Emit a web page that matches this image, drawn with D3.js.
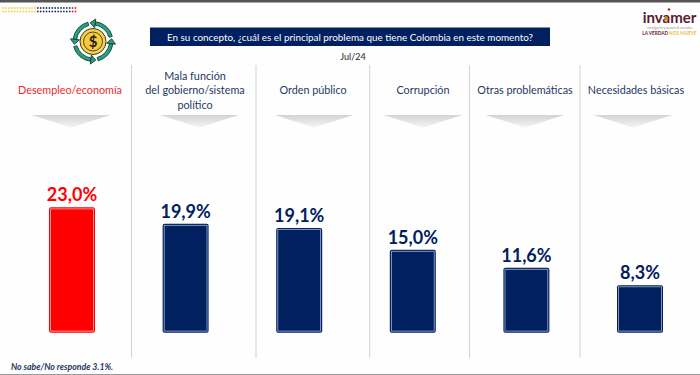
<!DOCTYPE html>
<html>
<head>
<meta charset="utf-8">
<script src="https://cdn.jsdelivr.net/npm/d3@7"></script>
<style>
  html, body { margin: 0; padding: 0; background: #fff; overflow: hidden; }
  svg { display: block; font-family: Lato, "Open Sans", sans-serif; }
</style>
</head>
<body>
<svg width="700" height="375"></svg>
<script>
// Data
const categories = [
  ["Desempleo/economía"],
  ["Mala función", "del gobierno/sistema", "político"],
  ["Orden público"],
  ["Corrupción"],
  ["Otras problemáticas"],
  ["Necesidades básicas"]
];
const values = [23.0, 19.9, 19.1, 15.0, 11.6, 8.3];
const question = "En su concepto, ¿cuál es el principal problema que tiene Colombia en este momento?";
const period = "Jul/24";
const footnote = "No sabe/No responde 3.1%.";

// Layout of the slide
const navy = "#002060";
const red = "#ff0000";
const labelX = [70, 195, 313, 423, 525, 636];
const arrowX = [71, 199.5, 314, 423, 525, 633];
const separatorX = [131.5, 256, 369.7, 469.5, 580];

const svg = d3.select("svg");
const defs = svg.append("defs");
const grad = defs.append("linearGradient")
  .attr("id", "arrowFill").attr("x1", 0).attr("x2", 0).attr("y1", 0).attr("y2", 1);
grad.append("stop").attr("offset", "0%").attr("stop-color", "#d4d4d4");
grad.append("stop").attr("offset", "100%").attr("stop-color", "#f4f4f4");

svg.append("rect").attr("width", 700).attr("height", 375).attr("fill", "#fefefe");

// Top and bottom slide edges
svg.append("rect").attr("width", 700).attr("height", 2.5).attr("fill", "#555");
svg.append("rect").attr("y", 374).attr("width", 700).attr("height", 1).attr("fill", "#999");

// Dotted decoration, top left
const dotColor = i => i < 12 ? "#f6cf45" : i < 24 ? "#24386e" : "#d9252a";
[8, 11.5].forEach(cy => {
  svg.append("g").selectAll("circle")
    .data(d3.range(26))
    .enter()
    .append("circle")
    .attr("cx", i => 3 + i * 2.9)
    .attr("cy", cy)
    .attr("r", 0.9)
    .attr("fill", dotColor);
});

// Coin icon
const icon = svg.append("g").attr("transform", "translate(93,41.5)");
const ringArc = d3.arc().innerRadius(16.5).outerRadius(20);
[0, 1, 2, 3].forEach(i => {
  const a0 = i * Math.PI / 2 + 0.12;
  const a1 = a0 + Math.PI / 2 - 0.38;
  icon.append("path")
    .attr("d", ringArc({ startAngle: a0, endAngle: a1 }))
    .attr("fill", "#1fa67f")
    .attr("stroke", "#1b2b2b")
    .attr("stroke-width", 0.8);
  // Arrow head at the end of each arc
  const r = 18.2;
  const tx = r * Math.sin(a0), ty = -r * Math.cos(a0);
  const rot = a0 * 180 / Math.PI;
  icon.append("path")
    .attr("d", "M-5,0 L0,-4.5 L0,4.5 Z")
    .attr("transform", `translate(${tx},${ty}) rotate(${rot})`)
    .attr("fill", "#1fa67f")
    .attr("stroke", "#1b2b2b")
    .attr("stroke-width", 0.8);
});
icon.append("circle").attr("r", 13).attr("fill", "#f5d547").attr("stroke", "#222").attr("stroke-width", 0.9);
icon.append("circle").attr("r", 9.5).attr("fill", "#f8c93a").attr("stroke", "#222").attr("stroke-width", 0.8);
icon.append("text")
  .attr("y", 5.5).attr("text-anchor", "middle")
  .style("font-size", "15px").style("font-weight", 700).attr("fill", "#222")
  .text("$");

// Question banner
svg.append("rect")
  .attr("x", 150).attr("y", 27.5).attr("width", 400).attr("height", 18.5)
  .attr("fill", navy);
svg.append("text")
  .attr("x", 350).attr("y", 40.5)
  .attr("text-anchor", "middle")
  .attr("fill", "#fff")
  .style("font-size", "9.9px")
  .text(question);
svg.append("text")
  .attr("x", 353).attr("y", 59.5)
  .attr("text-anchor", "middle")
  .attr("fill", "#222")
  .style("font-size", "9px")
  .text(period);

// Logo
const logo = svg.append("g");
logo.append("text")
  .attr("x", 669.5).attr("y", 23)
  .attr("text-anchor", "middle")
  .attr("fill", "#5a1a2c")
  .style("font-size", "15px").style("font-weight", 700)
  .text("invamer");
logo.append("circle").attr("cx", 669).attr("cy", 9.5).attr("r", 1.3).attr("fill", "#c8281e");
logo.append("ellipse").attr("cx", 666).attr("cy", 18.5).attr("rx", 2).attr("ry", 2.2).attr("fill", "#d9832a");
logo.append("text")
  .attr("x", 669.5).attr("y", 29)
  .attr("text-anchor", "middle")
  .attr("fill", "#9a8a8a")
  .style("font-size", "2.8px")
  .text("investigación y asesoría de mercados");
const tagline = logo.append("text")
  .attr("x", 669.5).attr("y", 35)
  .attr("text-anchor", "middle")
  .style("font-size", "4.7px").style("font-weight", 700)
  .attr("fill", "#6a1f30");
tagline.append("tspan").text("LA VERDAD ");
tagline.append("tspan").attr("fill", "#eabf4a").text("NOS MUEVE");

// Column separators
svg.append("g").selectAll("line")
  .data(separatorX)
  .enter()
  .append("line")
  .attr("x1", d => d).attr("x2", d => d)
  .attr("y1", 65).attr("y2", 358)
  .attr("stroke", "#d2d2d2")
  .attr("stroke-width", 1);

// Category labels
const labelColor = i => i === 0 ? "#ee2a2e" : "#1f3864";
categories.forEach((lines, i) => {
  const top = 94 - (lines.length - 1) * 14.5;
  const t = svg.append("text")
    .attr("text-anchor", "middle")
    .attr("fill", labelColor(i))
    .style("font-size", "10.8px");
  lines.forEach((line, k) => {
    t.append("tspan")
      .attr("x", labelX[i])
      .attr("y", top + k * 14.5 + (lines.length > 1 ? 14.5 : 0))
      .text(line);
  });
});

// Gray arrows under the labels
svg.append("g").selectAll("path")
  .data(arrowX)
  .enter()
  .append("path")
  .attr("d", d => `M${d - 39.5},115 L${d + 39.5},115 L${d},127.5 Z`)
  .attr("fill", "url(#arrowFill)");

// Scales
const x = d3.scalePoint()
  .domain(d3.range(values.length))
  .range([72, 640]);
const y = d3.scaleLinear()
  .domain([-0.66, 23])
  .range([332.7, 207.3]);
const barWidth = 46;
const barColor = i => i === 0 ? red : navy;

// Bars: outer frame, thin light inner line, solid fill
const bars = svg.append("g").selectAll("g")
  .data(values)
  .enter()
  .append("g");

bars.append("rect")
  .attr("x", (d, i) => x(i) - barWidth / 2)
  .attr("y", d => y(d))
  .attr("width", barWidth)
  .attr("height", d => y.range()[0] - y(d))
  .attr("rx", 2)
  .attr("fill", (d, i) => barColor(i));

bars.append("rect")
  .attr("x", (d, i) => x(i) - barWidth / 2 + 1.6)
  .attr("y", d => y(d) + 1.6)
  .attr("width", barWidth - 3.2)
  .attr("height", d => y.range()[0] - y(d) - 3.2)
  .attr("fill", "none")
  .attr("stroke", (d, i) => i === 0 ? "#ffb0b0" : "#9fb0cf")
  .attr("stroke-width", 0.8);

// Value labels
bars.append("text")
  .attr("x", (d, i) => x(i))
  .attr("y", d => y(d) - 6)
  .attr("text-anchor", "middle")
  .attr("fill", (d, i) => i === 0 ? red : navy)
  .style("font-size", "18px")
  .style("font-weight", 700)
  .text(d => d.toFixed(1).replace(".", ",") + "%");

// Footnote
svg.append("text")
  .attr("x", 11).attr("y", 370)
  .attr("fill", "#1f3864")
  .style("font-size", "8.7px")
  .style("font-weight", 700)
  .style("font-style", "italic")
  .text(footnote);
</script>
</body>
</html>
